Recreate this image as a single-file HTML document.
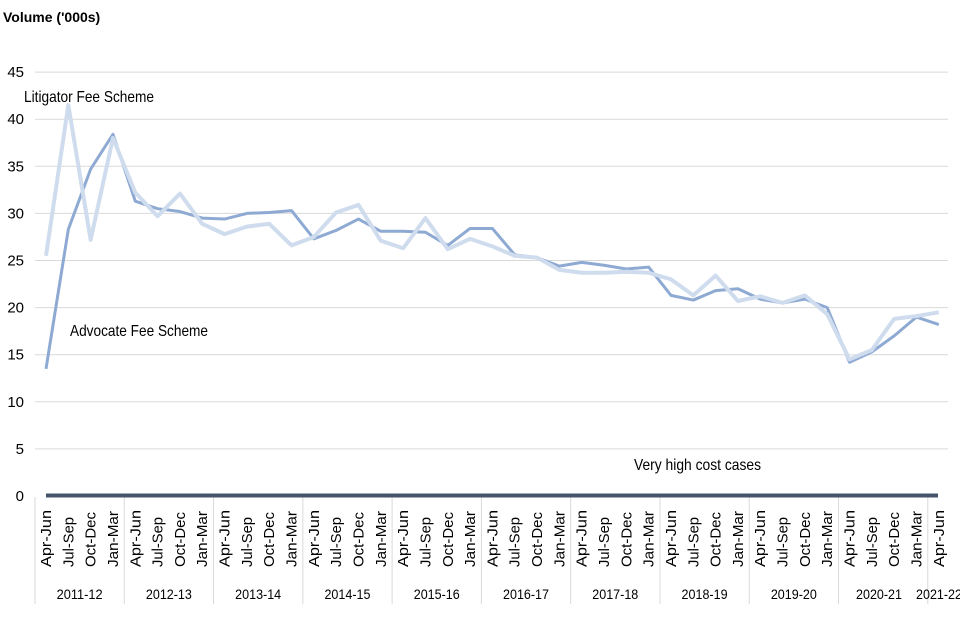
<!DOCTYPE html>
<html><head><meta charset="utf-8"><style>
body{margin:0;background:#fff;}
svg{display:block;font-family:"Liberation Sans",sans-serif;}
</style></head><body>
<svg id="c" width="960" height="640" xmlns="http://www.w3.org/2000/svg"></svg>
<script>
const lit=[25.5,41.5,27.2,38,32.2,29.7,32.1,28.9,27.8,28.6,28.9,26.6,27.5,30.1,30.9,27.1,26.3,29.5,26.2,27.3,26.5,25.5,25.3,24.0,23.7,23.7,23.8,23.7,23.0,21.3,23.4,20.7,21.2,20.5,21.3,19.3,14.5,15.5,18.8,19.1,19.5];
const adv=[13.5,28.3,34.7,38.4,31.3,30.5,30.2,29.5,29.4,30.0,30.1,30.3,27.3,28.2,29.4,28.1,28.1,28.0,26.6,28.4,28.4,25.6,25.3,24.4,24.8,24.5,24.1,24.3,21.3,20.8,21.8,22.0,20.9,20.5,20.9,20.0,14.2,15.3,17.0,19.0,18.2];
const X=i=>46+22.32*i, Y=v=>496-v*9.42;
let s='<text x="3" y="22" font-size="14" font-weight="bold" fill="#000">Volume (\'000s)</text>';
for(let v=0;v<=45;v+=5){const y=Y(v);
 if(v>0)s+=`<line x1="35" x2="948" y1="${y}" y2="${y}" stroke="#d9d9d9" stroke-width="1"/>`;
 s+=`<text x="24" y="${y+5}" font-size="15" text-anchor="end" fill="#000">${v}</text>`;}
const q=['Apr-Jun','Jul-Sep','Oct-Dec','Jan-Mar'];
const ql=[57,50,55,56];
for(let i=0;i<41;i++){s+=`<text transform="translate(${X(i)+5},567) rotate(-90)" font-size="15" textLength="${ql[i%4]}" lengthAdjust="spacingAndGlyphs" fill="#000">${q[i%4]}</text>`;}
const yrs=['2011-12','2012-13','2013-14','2014-15','2015-16','2016-17','2017-18','2018-19','2019-20','2020-21','2021-22'];
for(let k=0;k<=10;k++){const x0=35+89.28*k;s+=`<line x1="${x0}" x2="${x0}" y1="497" y2="604" stroke="#d9d9d9"/>`;
 let cx=x0+44.6; if(k==9)cx=879; if(k==10)cx=939;
 s+=`<text x="${cx}" y="599" font-size="14" text-anchor="middle" textLength="46" lengthAdjust="spacingAndGlyphs" fill="#000">${yrs[k]}</text>`;}
const pl=(d,c,w)=>`<polyline fill="none" stroke="${c}" stroke-width="${w}" stroke-linejoin="round" points="${d.map((v,i)=>X(i)+','+Y(v)).join(' ')}"/>`;
s+=pl(adv,'#8eaad3',3)+pl(lit,'#cfdcee',4);
s+=`<line x1="46" x2="938" y1="495.5" y2="495.5" stroke="#44546a" stroke-width="4"/>`;
s+=`<text x="24" y="102" font-size="16" textLength="130" lengthAdjust="spacingAndGlyphs" fill="#000">Litigator Fee Scheme</text>`;
s+=`<text x="70" y="336" font-size="16" textLength="138" lengthAdjust="spacingAndGlyphs" fill="#000">Advocate Fee Scheme</text>`;
s+=`<text x="634" y="470" font-size="16" textLength="127" lengthAdjust="spacingAndGlyphs" fill="#000">Very high cost cases</text>`;
document.getElementById('c').innerHTML=s;
</script>
</body></html>
